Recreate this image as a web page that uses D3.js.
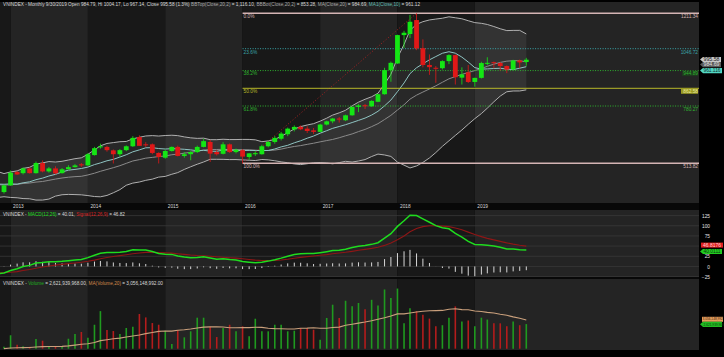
<html>
<head>
<meta charset="utf-8">
<style>
  body { margin: 0; background: #000; }
  svg text { font-family: "Liberation Sans", Arial, sans-serif; }
</style>
</head>
<body>
<script src="https://d3js.org/d3.v7.min.js"></script>
<script>
// ---- data (monthly VNINDEX, Dec 2012 .. Sep 2019) ----
var firstMonth = [2012, 11];
var opens  = [380, 411, 473, 468, 490, 468, 515, 476, 490, 468, 486, 496, 509,
              504, 552, 588, 590, 574, 556, 575, 593, 636, 602, 602, 562,
              540, 571, 590, 548, 556, 566, 590, 613, 566, 558, 602, 566,
              575, 543, 556, 556, 593, 613, 628, 649, 671, 683, 675, 667,
              660, 694, 709, 722, 714, 737, 776, 784, 779, 800, 835, 947,
              978, 1110, 1115, 1180, 1049, 971, 958, 956, 989, 1017, 912, 937,
              892, 911, 980, 984, 980, 966, 950, 992, 984.79];
var highs  = [415, 480, 478, 495, 493, 522, 527, 497, 500, 492, 505, 510, 515,
              562, 590, 605, 596, 578, 580, 597, 640, 644, 612, 606, 565,
              578, 592, 596, 566, 570, 596, 628, 622, 575, 612, 606, 582,
              580, 562, 570, 600, 618, 640, 660, 680, 690, 690, 686, 678,
              698, 712, 725, 729, 740, 777, 790, 790, 807, 837, 958, 987,
              1112, 1130, 1204, 1211.34, 1090, 1020, 966, 993, 1021, 1020, 960, 971,
              912, 986, 1007, 987, 985, 969, 995, 996, 1004.17];
var lows   = [373, 409, 460, 462, 466, 466, 472, 470, 463, 466, 485, 494, 497,
              502, 550, 582, 568, 513, 545, 570, 590, 596, 590, 556, 513,
              535, 568, 546, 540, 528, 562, 588, 520, 550, 555, 562, 560,
              513.82, 530, 548, 554, 588, 605, 620, 640, 662, 668, 655, 650,
              658, 690, 700, 703, 710, 735, 752, 766, 776, 798, 833, 893,
              976, 1050, 1096, 1040, 960, 925, 888, 950, 975, 880, 880, 887,
              870, 908, 970, 955, 945, 933, 946, 957, 967.14];
var closes = [411, 470, 462, 490, 468, 515, 476, 490, 467, 486, 496, 504, 504,
              556, 584, 593, 575, 556, 575, 593, 632, 595, 600, 562, 543,
              571, 590, 548, 556, 566, 590, 617, 559, 556, 602, 566, 577,
              545, 560, 561, 593, 613, 632, 652, 675, 683, 672, 664, 660,
              694, 709, 722, 717, 737, 776, 783, 779, 804, 835, 947, 981,
              1110, 1121, 1172, 1048, 971, 961, 956, 989, 1017, 914, 927, 892,
              911, 980, 981, 980, 966, 950, 992, 983, 995.58];
// volume, billions of shares
var volumes = [0.2, 1.43, 0.43, 0.26, 0.2, 1.03, 0.85, 0.21, 0.21, 0.21, 1.06, 1.56, 1.78,
               1.17, 2.55, 4.0, 1.99, 1.88, 1.56, 2.2, 2.34, 3.69, 3.33, 2.73, 2.55,
               1.91, 0.5, 1.99, 1.21, 1.85, 3.3, 3.3, 2.34, 1.24, 2.2, 2.55, 1.85,
               2.38, 1.32, 3.19, 1.85, 1.85, 2.55, 2.55, 1.85, 1.91, 2.2, 2.2, 2.02,
               0.96, 3.27, 4.68, 3.27, 5.1, 4.51, 4.86, 4.2, 5.2, 4.6, 6.3, 5.4,
               6.4, 2.7, 4.3, 4.0, 3.6, 3.2, 2.4, 2.5, 3.3, 4.5, 2.9, 3.0,
               2.4, 3.3, 3.1, 2.7, 2.7, 2.4, 2.9, 2.5, 2.62];
// closes before the first shown month (Jan 2010 .. Nov 2012), used by the indicators
var priorCloses = [481, 497, 498, 542, 505, 508, 494, 438, 453, 452, 455, 485,
                   513, 463, 462, 475, 424, 432, 410, 425, 427, 421, 381, 351,
                   388, 421, 452, 474, 428, 422, 416, 403, 392, 389, 376];

var fibHigh = 1211.34, fibLow = 513.82;
var fibRatios = [0, 0.236, 0.382, 0.5, 0.618, 1];
var fibNames  = ["0.0%", "23.6%", "38.2%", "50.0%", "61.8%", "100.0%"];
var fibValues = ["1211.34", "1046.72", "944.89", "862.58", "780.27", "513.82"];
var fibColors = ["#d4b4b4", "#3aa6aa", "#2fb52f", "#b8b828", "#2fb52f", "#d4b4b4"];
var macdTicks = [125, 100, 75, 25, 0, -25];

// ---- layout ----
var W = 724, H = 357, plotRight = 699;
var priceTop = 2, priceBottom = 203, macdTop = 210, macdBottom = 277, volTop = 279, volBottom = 350;

var svg = d3.select("body").append("svg")
    .attr("width", W).attr("height", H)
    .style("display", "block")
    .style("background", "#000");

var n = closes.length;
function monthDate(i) { return new Date(firstMonth[0], firstMonth[1] + i, 1); }
var x = d3.scaleTime().domain([monthDate(0), monthDate(n - 1)]).range([4, 526.3]);
var y = d3.scaleLinear().domain([fibLow, fibHigh]).range([163.3, 13.3]);
var yM = d3.scaleLinear().domain([-25, 125]).range([276.6, 215.6]);
var yV = d3.scaleLinear().domain([0, 1]).range([348.7, 339.3]);

// clip paths
var defs = svg.append("defs");
[["cp", priceTop, priceBottom], ["cm", macdTop, macdBottom], ["cv", volTop, volBottom]].forEach(function(c) {
  defs.append("clipPath").attr("id", c[0]).append("rect")
      .attr("x", 0).attr("y", c[1]).attr("width", plotRight).attr("height", c[2] - c[1]);
});

// year bands in every panel
var yearStarts = d3.range(2012, 2020).map(function(yr) { return yr === 2012 ? 0 : x(new Date(yr, 0, 1)); });
[[priceTop, priceBottom], [macdTop, macdBottom], [volTop, volBottom]].forEach(function(p) {
  svg.append("g").selectAll("rect").data(yearStarts).enter().append("rect")
      .attr("x", function(d) { return d; })
      .attr("width", function(d, i) { return (i < yearStarts.length - 1 ? yearStarts[i + 1] : plotRight) - d; })
      .attr("y", p[0]).attr("height", p[1] - p[0])
      .attr("fill", function(d, i) { return i % 2 ? "#242424" : "#181818"; });
});

// ---- indicators ----
var allCloses = priorCloses.concat(closes);
var off = priorCloses.length;
var ind = [];
for (var j = 19; j < allCloses.length; j++) {
  var win = allCloses.slice(j - 19, j + 1);
  var m = d3.mean(win);
  var sd = Math.sqrt(d3.mean(win, function(v) { return (v - m) * (v - m); }));
  ind.push({ date: monthDate(j - off), mid: m, top: m + 2 * sd, bot: m - 2 * sd,
             ma10: d3.mean(allCloses.slice(j - 9, j + 1)) });
}
function ema(arr, p) {
  var k = 2 / (p + 1), out = [arr[0]];
  for (var i = 1; i < arr.length; i++) out.push(arr[i] * k + out[i - 1] * (1 - k));
  return out;
}
var e12 = ema(allCloses, 12), e26 = ema(allCloses, 26);
var macdVals = allCloses.map(function(v, i) { return e12[i] - e26[i]; });
var sigVals = ema(macdVals, 9);
var macd = allCloses.map(function(v, i) {
  return { date: monthDate(i - off), macd: macdVals[i], sig: sigVals[i], hist: macdVals[i] - sigVals[i] };
}).filter(function(d, i) { return i >= off - 3; });

// ---- price panel ----
var gp = svg.append("g").attr("clip-path", "url(#cp)");
gp.append("path").datum(ind)
    .attr("fill", "rgba(255,255,255,0.07)")
    .attr("d", d3.area().x(function(d) { return x(d.date); })
        .y0(function(d) { return y(d.bot); }).y1(function(d) { return y(d.top); }));
[["top", "#b0b0b0"], ["bot", "#b0b0b0"], ["mid", "#8a8a8a"], ["ma10", "#8fc4c2"]].forEach(function(s) {
  gp.append("path").datum(ind)
      .attr("fill", "none").attr("stroke", s[1]).attr("stroke-width", 1)
      .attr("d", d3.line().x(function(d) { return x(d.date); }).y(function(d) { return y(d[s[0]]); }));
});

// fibonacci retracement
var fibX0 = x(monthDate(37)), fibX1 = x(monthDate(64));
gp.append("line")
    .attr("x1", fibX0).attr("y1", y(fibLow)).attr("x2", fibX1).attr("y2", y(fibHigh))
    .attr("stroke", "#a52222").attr("stroke-width", 1).attr("stroke-dasharray", "1,2");
fibRatios.forEach(function(r, i) {
  var v = fibHigh - r * (fibHigh - fibLow), yy = y(v);
  var solid = (i === 0 || i === 5 || i === 3);
  gp.append("line")
      .attr("x1", fibX0).attr("x2", plotRight).attr("y1", yy).attr("y2", yy)
      .attr("stroke", fibColors[i]).attr("stroke-width", (i === 0 || i === 5) ? 1.6 : 1)
      .attr("stroke-dasharray", solid ? null : "1,1.5");
  gp.append("text").attr("x", fibX0 + 1).attr("y", yy + 4.8)
      .attr("font-size", 4.8).attr("fill", fibColors[i]).text(fibNames[i]);
  var lab = gp.append("g");
  if (i === 3) lab.append("rect").attr("x", 681).attr("y", yy).attr("width", 17).attr("height", 5.5).attr("fill", "#9a9a22");
  if (i === 2) lab.append("rect").attr("x", 682).attr("y", yy).attr("width", 16).attr("height", 5.5).attr("fill", "#1e3a1e");
  lab.append("text").attr("x", 698).attr("y", yy + 4.8).attr("text-anchor", "end")
      .attr("font-size", 4.8).attr("fill", i === 3 ? "#e8e8a0" : fibColors[i]).text(fibValues[i]);
});

// candles
var up = "#14e614", dn = "#e01818";
var candle = gp.append("g").selectAll("g").data(closes).enter().append("g");
candle.append("line")
    .attr("x1", function(d, i) { return x(monthDate(i)); })
    .attr("x2", function(d, i) { return x(monthDate(i)); })
    .attr("y1", function(d, i) { return y(highs[i]); })
    .attr("y2", function(d, i) { return y(lows[i]); })
    .attr("stroke", function(d, i) { return d >= opens[i] ? up : dn; })
    .attr("stroke-width", 0.8);
candle.append("rect")
    .attr("x", function(d, i) { return x(monthDate(i)) - 2.4; })
    .attr("width", 4.8)
    .attr("y", function(d, i) { return y(Math.max(d, opens[i])); })
    .attr("height", function(d, i) { return Math.max(1, Math.abs(y(d) - y(opens[i]))); })
    .attr("fill", function(d, i) { return d >= opens[i] ? up : dn; });

// header
var hdr = svg.append("text").attr("x", 3).attr("y", 6.2).attr("font-size", 4.8)
    .attr("textLength", 417).attr("lengthAdjust", "spacingAndGlyphs");
[["VNINDEX - Monthly 9/30/2019 Open 984.79, Hi 1004.17, Lo 967.14, Close 995.58 (1.3%) ", "#d8d8d8"],
 ["BBTop(Close,20,2)", "#a8a8a8"], [" = 1,116.10, ", "#d8d8d8"],
 ["BBBot(Close,20,2)", "#a8a8a8"], [" = 853.28, ", "#d8d8d8"],
 ["MA(Close,20)", "#a8a8a8"], [" = 984.69, ", "#d8d8d8"],
 ["MA1(Close,10)", "#5fbcb2"], [" = 961.12", "#d8d8d8"]].forEach(function(t) {
  hdr.append("tspan").attr("fill", t[1]).text(t[0]);
});

// right-hand value tags
function tagBox(yc, txt, bg, fg, w, fs) {
  var g = svg.append("g");
  g.append("path").attr("d", "M700," + yc + "L703," + (yc - 2.6) + "H" + (703 + w) + "V" + (yc + 2.6) + "H703Z").attr("fill", bg);
  var t = g.append("text").attr("x", 703.5).attr("y", yc + 1.7).attr("font-size", fs || 4.8).attr("fill", fg).text(txt);
  if (!fs) t.attr("textLength", w - 2).attr("lengthAdjust", "spacingAndGlyphs");
}
tagBox(59.5, "995.58", "#c8c8c8", "#202020", 18);
tagBox(64.6, "984.69", "#5a5a5a", "#e0e0e0", 18);
tagBox(70.6, "961.116", "#52d6c2", "#0e2a28", 19);

// x axis strip
svg.append("rect").attr("x", 0).attr("y", priceBottom).attr("width", plotRight).attr("height", macdTop - priceBottom).attr("fill", "#080808");
var xa = svg.append("g").attr("transform", "translate(0," + (priceBottom + 1) + ")")
    .call(d3.axisBottom(x).ticks(d3.timeYear.every(1)).tickFormat(d3.timeFormat("%Y")).tickSize(0).tickPadding(0));
xa.select(".domain").remove();
xa.selectAll("text").attr("font-size", 4.8).attr("fill", "#d8d8d8").attr("text-anchor", "start").attr("dx", 2).attr("dy", 4.2)
    .attr("font-family", "Liberation Sans, Arial, sans-serif");

// ---- MACD panel ----
var gm = svg.append("g").attr("clip-path", "url(#cm)");
gm.selectAll("line.grid").data(macdTicks.concat([50])).enter().append("line")
    .attr("class", "grid").attr("x1", 0).attr("x2", plotRight)
    .attr("y1", function(d) { return yM(d); }).attr("y2", function(d) { return yM(d); })
    .attr("stroke", "#383838").attr("stroke-width", 0.8);
gm.selectAll("line.hist").data(macd).enter().append("line")
    .attr("class", "hist")
    .attr("x1", function(d) { return x(d.date); }).attr("x2", function(d) { return x(d.date); })
    .attr("y1", yM(0)).attr("y2", function(d) { return yM(d.hist); })
    .attr("stroke", "#d8d8d8").attr("stroke-width", 1);
gm.append("path").datum(macd).attr("fill", "none").attr("stroke", "#8e1616").attr("stroke-width", 1.1)
    .attr("d", d3.line().x(function(d) { return x(d.date); }).y(function(d) { return yM(d.sig); }));
gm.append("path").datum(macd).attr("fill", "none").attr("stroke", "#1fdc1f").attr("stroke-width", 1.5)
    .attr("d", d3.line().x(function(d) { return x(d.date); }).y(function(d) { return yM(d.macd); }));

var ma = svg.append("g").attr("transform", "translate(710,0)")
    .call(d3.axisLeft(yM).tickValues(macdTicks).tickSize(0).tickPadding(0));
ma.select(".domain").remove();
ma.selectAll("text").attr("font-size", 4.8).attr("fill", "#e0e0e0").attr("dy", 1.6)
    .attr("font-family", "Liberation Sans, Arial, sans-serif")
    .attr("x", 0).attr("text-anchor", "end");

var mh = svg.append("text").attr("x", 3).attr("y", 215.6).attr("font-size", 4.8)
    .attr("textLength", 122).attr("lengthAdjust", "spacingAndGlyphs");
[["VNINDEX - ", "#d8d8d8"], ["MACD(12,26)", "#1fdc1f"], [" = 40.01, ", "#d8d8d8"],
 ["Signal(12,26,9)", "#d82020"], [" = 46.82", "#d8d8d8"]].forEach(function(t) {
  mh.append("tspan").attr("fill", t[1]).text(t[0]);
});
svg.append("rect").attr("x", 701).attr("y", 242.6).attr("width", 22).attr("height", 5).attr("fill", "#e02020");
svg.append("text").attr("x", 703).attr("y", 246.5).attr("font-size", 4.8).attr("fill", "#ffd0d0")
    .attr("textLength", 18).attr("lengthAdjust", "spacingAndGlyphs").text("46.8176");
tagBox(251.5, "40.0111", "#22cc22", "#0b3b0b", 19);

// separator
svg.append("rect").attr("x", 0).attr("y", macdBottom).attr("width", plotRight).attr("height", volTop - macdBottom).attr("fill", "#080808");

// ---- volume panel ----
var gv = svg.append("g").attr("clip-path", "url(#cv)");
gv.selectAll("line.vol").data(volumes).enter().append("line")
    .attr("class", "vol")
    .attr("x1", function(d, i) { return x(monthDate(i)); }).attr("x2", function(d, i) { return x(monthDate(i)); })
    .attr("y1", yV(0)).attr("y2", function(d) { return yV(d); })
    .attr("stroke", function(d, i) { return closes[i] >= opens[i] ? "#1f9a1f" : "#b41c1c"; })
    .attr("stroke-width", 1.6);
var volMA = volumes.map(function(v, i) { return d3.sum(volumes.slice(Math.max(0, i - 19), i + 1)) / 20; });
gv.append("path").datum(volMA).attr("fill", "none").attr("stroke", "#caa07c").attr("stroke-width", 1.1)
    .attr("d", d3.line().x(function(d, i) { return x(monthDate(i)); }).y(function(d) { return yV(d); }));

var vh = svg.append("text").attr("x", 3).attr("y", 285.4).attr("font-size", 4.8)
    .attr("textLength", 160).attr("lengthAdjust", "spacingAndGlyphs");
[["VNINDEX - ", "#d8d8d8"], ["Volume", "#1fb01f"], [" = 2,621,939,968.00, ", "#d8d8d8"],
 ["MA(Volume,20)", "#d0884a"], [" = 3,056,148,992.00", "#d8d8d8"]].forEach(function(t) {
  vh.append("tspan").attr("fill", t[1]).text(t[0]);
});
svg.append("rect").attr("x", 702).attr("y", 316.8).attr("width", 21).attr("height", 5).attr("fill", "#e8a060");
svg.append("text").attr("x", 702.5).attr("y", 320.3).attr("font-size", 3.2).attr("fill", "#3a2008").text("3,056,148,992");
tagBox(324.3, "2,621,939,968", "#22bb22", "#0b3b0b", 19, 3.2);
</script>
</body>
</html>
